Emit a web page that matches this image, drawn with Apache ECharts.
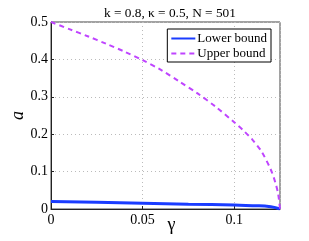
<!DOCTYPE html>
<html><head><meta charset="utf-8">
<script src="https://cdn.jsdelivr.net/npm/echarts@6/dist/echarts.min.js"></script>
<style>html,body{margin:0;padding:0;background:#fff}#c{width:309px;height:241px}</style>
</head><body><div id="c"></div>
<script>
var upperGamma = [0, 0.01, 0.02, 0.03, 0.04, 0.05, 0.06, 0.07, 0.08, 0.09, 0.1, 0.105, 0.11, 0.115, 0.12, 0.1225, 0.124, 0.125];
var upperA     = [0.5, 0.481, 0.462, 0.442, 0.421, 0.398, 0.372, 0.341, 0.309, 0.273, 0.232, 0.21, 0.185, 0.153, 0.105, 0.07, 0.04, 0.0];
var lowerGamma = [0, 0.025, 0.05, 0.075, 0.1, 0.11, 0.12, 0.125];
var lowerA     = [0.02, 0.018, 0.0155, 0.013, 0.0105, 0.009, 0.006, 0.0];
var xTicks = [0, 0.05, 0.1];
var yTicks = [0, 0.1, 0.2, 0.3, 0.4, 0.5];
var titleText = 'k = 0.8, \u03ba = 0.5, N = 501';

function pairs(xs, ys){ return xs.map(function(x,i){ return [x, ys[i]]; }); }
var font = 'Liberation Serif';
var chart = echarts.init(document.getElementById('c'), null, {renderer:'canvas'});
chart.setOption({
  animation: false,
  title: {text: titleText, left: 99, top: 2, textStyle: {fontFamily: font, fontSize: 13.3, fontWeight: 'normal', color: '#000'}},
  grid: {left: 51, right: 29, top: 22, bottom: 32, show: true, borderColor: '#444', borderWidth: 1, backgroundColor: '#fff',
         containLabel: false, outerBoundsMode: 'none'},
  legend: {
    orient: 'vertical', right: 38, top: 29, itemWidth: 24, itemHeight: 10, itemGap: 2,
    padding: [3, 4, 2, 3], borderColor: '#000', borderWidth: 1, backgroundColor: '#fff',
    textStyle: {fontFamily: font, fontSize: 13, color: '#000', padding: [0,0,0,-3]},
    data: [{name: 'Lower bound', itemStyle: {opacity: 0}}, {name: 'Upper bound', itemStyle: {opacity: 0}}]
  },
  xAxis: {
    type: 'value', min: 0, max: 0.125, interval: 0.05,
    name: '\u03b3', nameLocation: 'middle', nameGap: 7, nameMoveOverlap: false,
    nameTextStyle: {fontFamily: font, fontSize: 18, color: '#000', padding: [0, 0, 0, 12]},
    axisLine: {show: true, lineStyle: {color: '#222'}},
    axisTick: {show: true, inside: true, length: 3, lineStyle: {color: '#222'}},
    axisLabel: {fontFamily: font, fontSize: 14, color: '#000', margin: 4, showMaxLabel: false,
      formatter: function(v){ var r = Math.round(v*1000)/1000; return xTicks.indexOf(r) >= 0 ? String(r) : ''; }},
    splitLine: {show: true, lineStyle: {color: '#bbb', type: [1, 3], width: 1}}
  },
  yAxis: {
    type: 'value', min: 0, max: 0.5, interval: 0.1,
    name: 'a', nameLocation: 'middle', nameGap: 24, nameRotate: 90, nameMoveOverlap: false,
    nameTextStyle: {fontFamily: font, fontSize: 18, fontStyle: 'italic', color: '#000'},
    axisLine: {show: true, lineStyle: {color: '#222'}},
    axisTick: {show: true, inside: true, length: 3, lineStyle: {color: '#222'}},
    axisLabel: {fontFamily: font, fontSize: 14, color: '#000', margin: 3,
      formatter: function(v){ var r = Math.round(v*10)/10; return yTicks.indexOf(r) >= 0 ? String(r) : ''; }},
    splitLine: {show: true, lineStyle: {color: '#bbb', type: [1, 3], width: 1}}
  },
  series: [
    {name: 'Lower bound', type: 'line', data: pairs(lowerGamma, lowerA), symbol: 'none', smooth: true,
     lineStyle: {color: '#1a3cff', width: 3}, itemStyle: {color: '#1a3cff'}},
    {name: 'Upper bound', type: 'line', data: pairs(upperGamma, upperA), symbol: 'none', smooth: 0.3,
     lineStyle: {color: '#bf44ff', width: 2, type: [5, 4]}, itemStyle: {color: '#bf44ff'}}
  ]
});
</script></body></html>
